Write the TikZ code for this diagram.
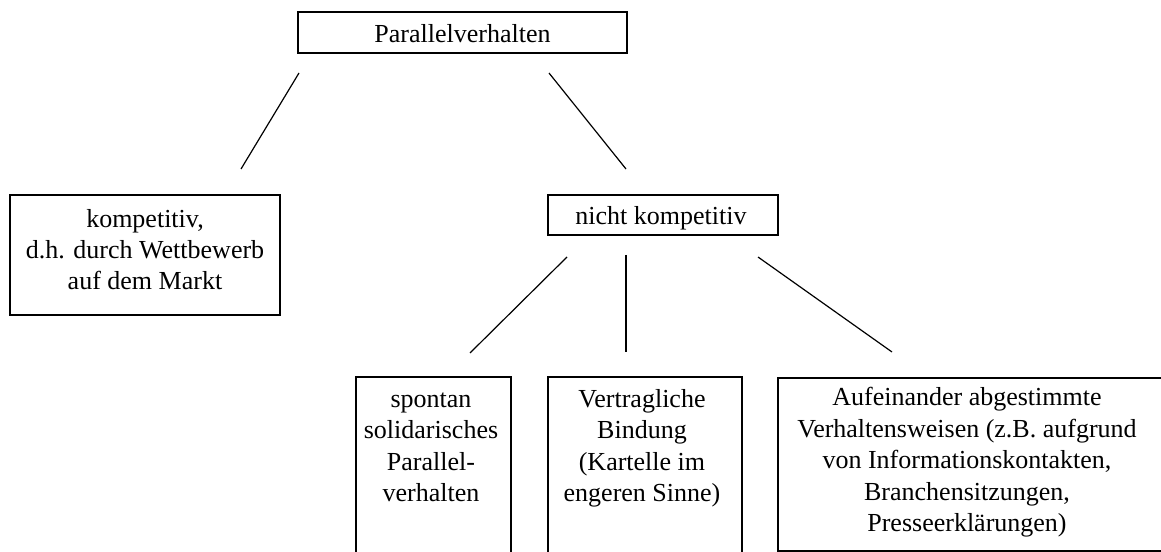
\documentclass[tikz,border=0pt]{standalone}
\usepackage{fontspec}
\setmainfont{Liberation Serif}
\begin{document}
\begin{tikzpicture}[x=0.75pt,y=-0.75pt,
  box/.style={draw=black,line width=1.3pt,rectangle,inner sep=0pt},
  lbl/.style={inner sep=0pt,anchor=base,align=center,font=\fontsize{19.5pt}{23.6pt}\selectfont},
  conn/.style={draw=black,line width=0.9pt},
  thick conn/.style={draw=black,line width=2.2pt}]
\useasboundingbox (0,0) rectangle (1161,552);
% boxes
\node[box,minimum width=329*0.75pt,minimum height=41*0.75pt] (top) at (462.5,32.5) {};
\node[box,minimum width=270*0.75pt,minimum height=120*0.75pt] (komp) at (145,255) {};
\node[box,minimum width=230*0.75pt,minimum height=40*0.75pt] (nicht) at (663,215) {};
\node[box,minimum width=155*0.75pt,minimum height=250*0.75pt] (spon) at (433.5,502) {};
\node[box,minimum width=194*0.75pt,minimum height=250*0.75pt] (vert) at (645,502) {};
\node[box,minimum width=400*0.75pt,minimum height=173*0.75pt] (auf) at (978,464.5) {};
% texts (anchor base = baseline of the last line)
\node[lbl] (ttop) at (462.5,43) {Parallelverhalten};
\node[lbl] (tkomp) at (145,290) {kompetitiv,\\d.h. durch Wettbewerb\\auf dem Markt};
\node[lbl] (tnicht) at (661,225) {nicht kompetitiv};
\node[lbl] (tspon) at (431,501.5) {spontan\\solidarisches\\Parallel-\\verhalten};
\node[lbl] (tvert) at (642,501.5) {Vertragliche\\Bindung\\(Kartelle im\\engeren Sinne)};
\node[lbl] (tauf) at (967,531.5) {Aufeinander abgestimmte\\Verhaltensweisen (z.B. aufgrund\\von Informationskontakten,\\Branchensitzungen,\\Presseerklärungen)};
% connector end points
\coordinate (c1a) at (299,73);  \coordinate (c1b) at (241,169);
\coordinate (c2a) at (549,73);  \coordinate (c2b) at (626,169);
\coordinate (c3a) at (567,257); \coordinate (c3b) at (470,353);
\coordinate (c4a) at (626,255); \coordinate (c4b) at (626,352);
\coordinate (c5a) at (758,257); \coordinate (c5b) at (892,352);
\draw[conn] (c1a) -- (c1b);
\draw[conn] (c2a) -- (c2b);
\draw[conn] (c3a) -- (c3b);
\draw[thick conn] (c4a) -- (c4b);
\draw[conn] (c5a) -- (c5b);
\end{tikzpicture}
\end{document}
